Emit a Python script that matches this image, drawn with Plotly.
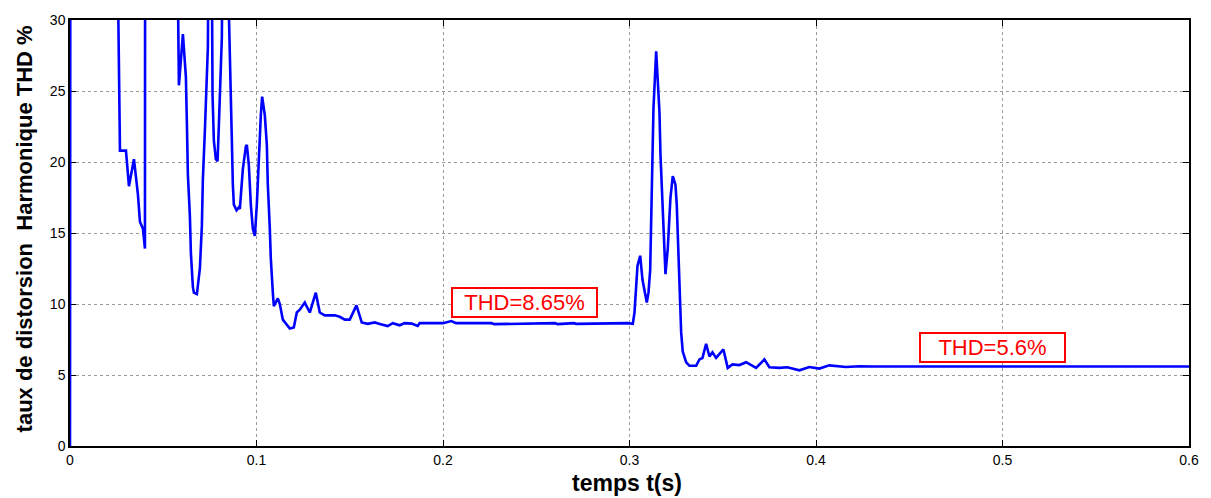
import plotly.graph_objects as go

# THD (%) of the line current versus time
temps = [
    0.0, 0.0002, 0.0250,
    0.02571, 0.02588, 0.02641, 0.02679, 0.02786, 0.03000, 0.03161, 0.03429,
    0.03643, 0.03750, 0.03911, 0.04018, 0.04030, 0.0570,
    0.05786, 0.05802, 0.05839, 0.06054, 0.06107, 0.06214, 0.06268, 0.06321,
    0.06429, 0.06482, 0.06589, 0.06643, 0.06804, 0.06964, 0.07071, 0.07125,
    0.07232, 0.07339, 0.07393, 0.0745, 0.0758,
    0.07643, 0.07714, 0.07821, 0.07912, 0.07982, 0.08089, 0.08143, 0.0820,
    0.0843, 0.08518, 0.08625, 0.08679, 0.08732, 0.08786, 0.0893, 0.0905,
    0.09107, 0.09268, 0.09429, 0.09482, 0.09589, 0.09696, 0.09804, 0.09911,
    0.10018, 0.10125, 0.10232, 0.10302, 0.10446, 0.10554, 0.10607, 0.10714,
    0.10768, 0.10875, 0.10929, 0.11143, 0.1125, 0.11411, 0.11786, 0.1200,
    0.12161, 0.12321, 0.12589, 0.12857, 0.13179, 0.13393, 0.13661, 0.14196,
    0.14464, 0.14732, 0.1500, 0.15359, 0.15643, 0.15964, 0.16339, 0.16607,
    0.17036, 0.17304, 0.17679, 0.17946, 0.18321, 0.18643, 0.1875, 0.2000,
    0.20448, 0.2070, 0.2260, 0.2275, 0.2600, 0.2615, 0.2700, 0.2715, 0.2990,
    0.30177, 0.30268, 0.30321, 0.30429, 0.30573, 0.30696, 0.30927, 0.31018,
    0.31109, 0.31163, 0.31248, 0.31286, 0.31430, 0.3150, 0.31607, 0.31661,
    0.31752, 0.31821, 0.31929, 0.32052, 0.32143, 0.32196, 0.3232, 0.32464,
    0.32534, 0.32588, 0.32641, 0.32716, 0.3277, 0.32855, 0.33037, 0.33214,
    0.33573, 0.3375, 0.33911, 0.34109, 0.34286, 0.34446, 0.34645, 0.35036,
    0.35266, 0.35518, 0.35893, 0.36252, 0.36788, 0.37232, 0.3750, 0.38036,
    0.38464, 0.39107, 0.39643, 0.40179, 0.40714, 0.41609, 0.42321, 0.43018,
    0.6,
]
thd = [
    0.0, 40.0, 40.0,
    32.0, 27.0, 23.4, 20.8, 20.8, 20.8, 18.3, 20.2,
    17.7, 15.8, 15.3, 13.9, 40.0, 40.0,
    32.0, 26.7, 25.4, 29.0, 28.1, 26.0, 22.7, 19.1,
    16.2, 13.6, 11.2, 10.8, 10.7, 12.5, 15.5, 18.8,
    22.2, 25.5, 28.1, 40.0, 40.0,
    24.7, 21.5, 20.2, 20.05, 22.6, 26.0, 28.8, 40.0,
    40.0, 30.5, 25.4, 21.5, 18.4, 17.0, 16.6, 16.8,
    16.7, 19.5, 21.1, 21.2, 19.8, 17.0, 15.3, 14.8,
    17.0, 20.5, 23.3, 24.6, 23.3, 21.2, 18.4, 15.3,
    13.2, 10.8, 9.85, 10.4, 10.0, 8.9, 8.27, 8.35,
    9.4, 9.6, 10.1, 9.4, 10.8, 9.4, 9.2, 9.2,
    9.1, 8.9, 8.9, 9.9, 8.7, 8.6, 8.7, 8.6,
    8.45, 8.65, 8.5, 8.65, 8.62, 8.45, 8.65, 8.65,
    8.8, 8.65, 8.65, 8.58, 8.65, 8.58, 8.65, 8.6, 8.65,
    8.6, 9.4, 10.5, 12.7, 13.4, 11.7, 10.1, 10.8,
    12.4, 15.8, 19.8, 23.8, 27.8, 26.0, 23.5, 20.5,
    17.3, 14.75, 12.1, 13.9, 15.9, 17.5, 19.0, 18.4,
    17.0, 15.0, 12.4, 10.1, 8.0, 6.65, 5.9, 5.65,
    5.65, 6.1, 6.2, 7.2, 6.3, 6.6, 6.2, 6.8,
    5.5, 5.75, 5.7, 5.9, 5.5, 6.1, 5.55, 5.5,
    5.55, 5.33, 5.56, 5.45, 5.68, 5.56, 5.62, 5.6,
    5.6,
]

x_ticks = [0, 0.1, 0.2, 0.3, 0.4, 0.5, 0.6]
x_tick_text = ["0", "0.1", "0.2", "0.3", "0.4", "0.5", "0.6"]
y_ticks = [0, 5, 10, 15, 20, 25, 30]

# labelled steady-state values
labels = ["THD=8.65%", "THD=5.6%"]
label_t = [0.2438, 0.4946]
label_v = [10.08, 6.94]

font_main = "Arial, Liberation Sans, sans-serif"

fig = go.Figure()
fig.add_trace(go.Scatter(
    x=temps, y=thd, mode="lines",
    line=dict(color="#0000FF", width=2.6),
    showlegend=False,
))

for txt, tx, ty in zip(labels, label_t, label_v):
    fig.add_annotation(
        x=tx, y=ty, xref="x", yref="y", text=txt, showarrow=False,
        font=dict(family=font_main, size=22, color="#FF0000"),
        bgcolor="white", bordercolor="#FF0000", borderwidth=2, borderpad=1,
        width=141, height=25, xanchor="center", yanchor="middle",
    )

fig.add_annotation(
    xref="paper", yref="paper", x=0.498, y=-0.086,
    text="<b>temps t(s)</b>", showarrow=False,
    font=dict(family=font_main, size=23, color="black"),
    xanchor="center", yanchor="middle",
)
fig.add_annotation(
    xref="paper", yref="paper", x=-0.0405, y=0.51,
    text="<b>taux de distorsion  Harmonique THD %</b>", showarrow=False,
    textangle=-90,
    font=dict(family=font_main, size=22, color="black"),
    xanchor="center", yanchor="middle",
)

axis_common = dict(
    showline=True, linecolor="black", linewidth=1.5, mirror="ticks",
    ticks="inside", ticklen=6, tickcolor="black", tickwidth=1,
    showgrid=True, gridcolor="#9a9a9a", griddash="dot", gridwidth=1,
    zeroline=False, layer="below traces",
    tickfont=dict(family=font_main, size=14, color="black"),
)

fig.update_xaxes(range=[0, 0.6], tickvals=x_ticks, ticktext=x_tick_text,
                 **axis_common)
fig.update_yaxes(range=[0, 30], tickvals=y_ticks, **axis_common)

fig.update_layout(
    width=1211, height=498,
    margin=dict(l=70, r=21, t=13, b=52),
    paper_bgcolor="white", plot_bgcolor="white",
)

fig.write_html("out.html")
